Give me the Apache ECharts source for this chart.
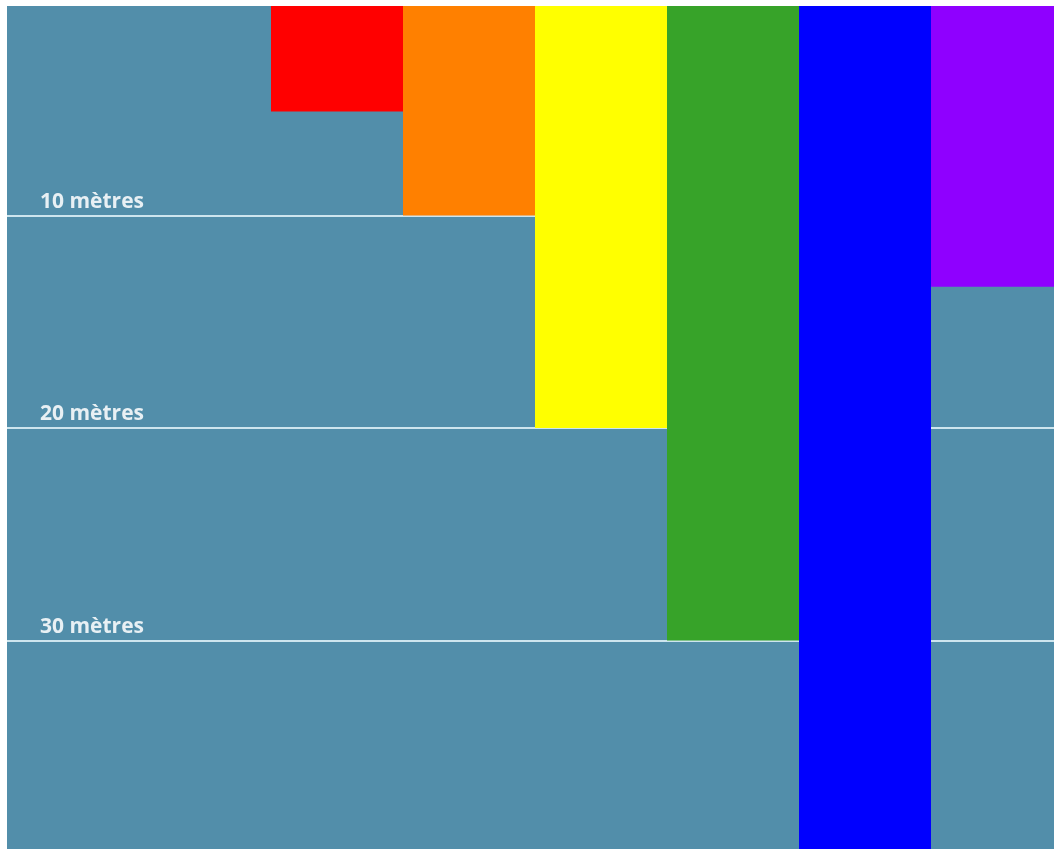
<!DOCTYPE html>
<html>
<head>
<meta charset="utf-8">
<script src="https://cdn.jsdelivr.net/npm/echarts@6/dist/echarts.min.js"></script>
<style>
html,body{margin:0;padding:0;background:#fff;overflow:hidden;}
#c{width:1054px;height:849px;}
</style>
</head>
<body>
<div id="c"></div>
<script>
const categories = ['', '', 'rouge', 'orange', 'jaune', 'vert', 'bleu', 'violet'];
const depths = [null, null, 5.1, 10, 20, 30, 40, 13.35];
const barColors = ['#528EAA', '#528EAA', '#FF0000', '#FF8000', '#FFFF00', '#37A329', '#0000FF', '#8F00FF'];
const depthTicks = [10, 20, 30];

const chart = echarts.init(document.getElementById('c'), null, {renderer: 'canvas'});
chart.setOption({
  animation: false,
  backgroundColor: '#ffffff',
  grid: {left: 7, top: 3, width: 1056, height: 850, outerBoundsMode: 'none', containLabel: false,
         show: true, backgroundColor: '#528EAA', borderWidth: 0},
  xAxis: {
    type: 'category', data: categories, position: 'top',
    axisLine: {show: false}, axisTick: {show: false}, axisLabel: {show: false}, splitLine: {show: false}
  },
  yAxis: {
    type: 'value', inverse: true, min: 0, max: 40, interval: 10,
    axisLine: {show: false}, axisTick: {show: false},
    splitLine: {show: true, lineStyle: {color: '#CDE5EE', width: 2}},
    axisLabel: {
      inside: true, margin: 33, verticalAlign: 'bottom', padding: [0, 0, 3, 0],
      color: '#E8F0F4', fontSize: 21, fontWeight: 'bold', fontFamily: 'Open Sans',
      formatter: function (v) { return depthTicks.indexOf(v) >= 0 ? v + ' mètres' : ''; }
    }
  },
  series: [{
    type: 'bar', barWidth: '100%', barGap: '0%', z: 3,
    data: depths.map(function (d, i) { return {value: d, itemStyle: {color: barColors[i]}}; })
  }],
  graphic: [
    {type: 'rect', z: 100, shape: {x: 0, y: 0, width: 1054, height: 6}, style: {fill: '#ffffff'}}
  ]
});
</script>
</body>
</html>
